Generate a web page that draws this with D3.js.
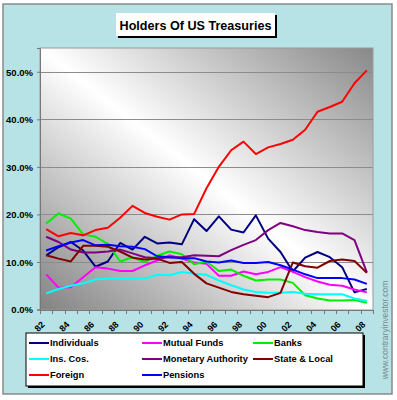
<!DOCTYPE html>
<html><head><meta charset="utf-8">
<script src="https://cdn.jsdelivr.net/npm/d3@7"></script>
<style>html,body{margin:0;padding:0;background:#fff;}svg{display:block;}</style>
</head><body>
<svg id="c" width="397" height="400"></svg>
<script>
const years = ['82','83','84','85','86','87','88','89','90','91','92','93','94','95','96','97','98','99','00','01','02','03','04','05','06','07','08'];
const yTicks = [0, 10, 20, 30, 40, 50];
const individuals = [11.4,13.1,14.2,12.4,9.0,10.1,14.0,12.6,15.3,13.9,14.1,13.7,19.0,16.5,19.6,16.8,16.2,19.8,14.9,12.1,8.0,10.9,12.1,11.0,8.9,3.6,4.3];
const mutualFunds = [7.4,4.6,4.7,6.8,8.9,8.6,8.1,8.1,9.3,10.3,11.4,10.7,9.9,9.6,7.1,7.1,8.0,7.4,7.9,8.9,7.9,6.8,5.9,5.2,5.0,4.2,3.6];
const banks = [18.1,20.2,19.1,15.8,15.3,13.8,10.1,11.0,10.0,11.3,12.2,11.6,9.5,10.1,8.1,8.4,7.1,6.1,6.3,6.3,5.6,3.0,2.3,1.9,1.9,2.0,1.4];
const insCos = [3.4,4.3,5.0,5.5,6.3,6.5,6.6,6.5,6.5,7.3,7.2,7.9,7.5,7.3,6.1,5.1,4.2,3.7,3.5,3.5,3.7,3.3,3.2,3.2,3.2,2.3,1.8];
const monetaryAuthority = [15.3,14.2,12.6,12.0,12.0,12.2,12.6,11.8,11.0,10.8,11.0,11.0,11.4,11.3,11.2,12.5,13.6,14.6,16.7,18.2,17.5,16.7,16.3,16.0,16.0,14.6,7.8];
const stateLocal = [11.4,10.7,10.1,13.4,13.4,13.2,12.2,10.9,10.5,10.7,9.8,10.0,7.5,5.5,4.6,3.7,3.2,2.9,2.6,3.5,9.9,9.1,8.8,10.2,10.5,10.2,7.7];
const foreign = [16.9,15.4,16.1,15.6,16.7,17.2,19.3,21.8,20.3,19.5,18.9,20.0,20.1,25.5,30.0,33.5,35.3,32.7,34.1,34.8,35.7,37.8,41.6,42.6,43.7,47.6,50.3];
const pensions = [12.4,13.3,14.1,14.6,13.5,13.6,13.3,13.2,12.7,11.2,11.0,10.8,10.8,10.1,9.9,10.3,9.8,9.8,10.0,9.3,8.4,7.4,6.6,6.6,6.6,6.3,5.4];
const seriesNames = ['Individuals','Mutual Funds','Banks','Ins. Cos.','Monetary Authority','State & Local','Foreign','Pensions'];
const seriesValues = [individuals, mutualFunds, banks, insCos, monetaryAuthority, stateLocal, foreign, pensions];
const seriesColors = ['#000080','#ff00ff','#00ee00','#00ffff','#800080','#800000','#ff0000','#0000ff'];

const svg = d3.select('#c');
const FONT = "'Liberation Sans', Arial, sans-serif";

// background
svg.append('rect').attr('x',3).attr('y',4).attr('width',389).attr('height',390)
  .attr('fill','#b7e3e6').attr('stroke','#8a8a8a').attr('stroke-width',1.5);

// title box
svg.append('rect').attr('x',118).attr('y',15).attr('width',159).attr('height',23).attr('fill','#000');
svg.append('rect').attr('x',116).attr('y',13).attr('width',159).attr('height',23).attr('fill','#fff');
svg.append('text').attr('x',195.5).attr('y',29.5).attr('text-anchor','middle')
  .attr('font-family',FONT).attr('font-weight','bold').attr('font-size','12.6px').attr('fill','#000')
  .text('Holders Of US Treasuries');

const L = 40, R = 373, T = 48, B = 310;
const x = d3.scaleBand().domain(years).range([L, R]).padding(0);
const y = d3.scaleLinear().domain([0, 55]).range([B - 0.5, T]);

// plot gradient
const defs = svg.append('defs');
const g = defs.append('linearGradient').attr('id','pg').attr('x1','0').attr('y1','1').attr('x2','1').attr('y2','0');
g.append('stop').attr('offset','0%').attr('stop-color','#828282');
g.append('stop').attr('offset','50%').attr('stop-color','#ffffff');
g.append('stop').attr('offset','100%').attr('stop-color','#888888');
svg.append('rect').attr('x',L).attr('y',T).attr('width',R-L).attr('height',B-T)
  .attr('fill','url(#pg)').attr('stroke','#9a9a9a').attr('stroke-width',1);

// gridlines
svg.append('g').selectAll('line').data(yTicks.filter(d=>d>0)).join('line')
  .attr('x1',L).attr('x2',R).attr('y1',d=>Math.round(y(d))+0.5).attr('y2',d=>Math.round(y(d))+0.5)
  .attr('stroke','#8c8c8c').attr('stroke-width',1);

// y axis
const yAxis = d3.axisLeft(y).tickValues(yTicks).tickSize(3).tickFormat(d=>d3.format('.1f')(d)+'%');
const ya = svg.append('g').attr('transform',`translate(${L},0)`).call(yAxis);
ya.select('.domain').attr('stroke','#777');
ya.selectAll('.tick line').attr('stroke','#777');
ya.selectAll('text').attr('font-family',FONT).attr('font-weight','bold').attr('font-size','9.5px')
  .attr('fill','#000').attr('x',-7).attr('dy','0.35em');

// x axis
svg.append('line').attr('x1',L).attr('x2',R).attr('y1',B+0.5).attr('y2',B+0.5).attr('stroke','#777');
const bounds = years.map(d=>x(d)).concat([x(years[years.length-1])+x.bandwidth()]);
svg.append('g').selectAll('line').data(bounds).join('line')
  .attr('x1',d=>Math.round(d)+0.5).attr('x2',d=>Math.round(d)+0.5).attr('y1',B).attr('y2',B+4)
  .attr('stroke','#777');
svg.append('g').selectAll('text').data(years.filter((d,i)=>i%2===0)).join('text')
  .attr('transform',d=>`translate(${x(d)+x.bandwidth()/2-3},${B+13}) rotate(-45)`)
  .attr('text-anchor','end').attr('dy','0.35em')
  .attr('font-family',FONT).attr('font-weight','bold').attr('font-size','9px').attr('fill','#000')
  .text(d=>d);

// lines
const line = d3.line().x((d,i)=>x(years[i])+x.bandwidth()/2).y(d=>y(d));
svg.append('g').selectAll('path').data(seriesValues).join('path')
  .attr('d',d=>line(d)).attr('fill','none')
  .attr('stroke',(d,i)=>seriesColors[i]).attr('stroke-width',2).attr('stroke-linejoin','round');

// legend
svg.append('rect').attr('x',28).attr('y',335).attr('width',337).attr('height',53).attr('fill','#000');
svg.append('rect').attr('x',26).attr('y',333).attr('width',337).attr('height',53)
  .attr('fill','#fff').attr('stroke','#000').attr('stroke-width',1);
const colX = [29, 142, 253];
const rowY = [343, 359, 375];
const lg = svg.append('g').selectAll('g').data(seriesNames).join('g')
  .attr('transform',(d,i)=>`translate(${colX[i%3]},${rowY[Math.floor(i/3)]})`);
lg.append('line').attr('x1',0).attr('x2',20).attr('y1',0).attr('y2',0)
  .attr('stroke',(d,i)=>seriesColors[i]).attr('stroke-width',2);
lg.append('text').attr('x',21).attr('y',0).attr('dy','0.35em')
  .attr('font-family',FONT).attr('font-weight','bold').attr('font-size','9.3px').attr('fill','#000')
  .text(d=>d);

// watermark
svg.append('text').attr('transform','translate(387.5,330) rotate(-90)').attr('text-anchor','middle')
  .attr('font-family',FONT).attr('font-size','8.5px').attr('fill','#7a8a8c')
  .text('www.contraryinvestor.com');
</script>
</body></html>
